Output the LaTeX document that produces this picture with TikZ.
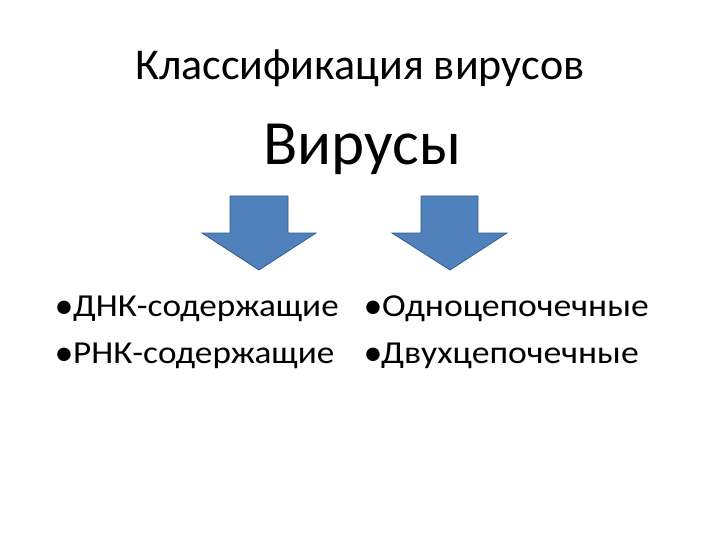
\documentclass[tikz,border=0pt]{standalone}
\usepackage{fontspec}
\setmainfont{Carlito}
\definecolor{arrowfill}{HTML}{4F81BD}
\definecolor{arrowline}{HTML}{385D8A}
\begin{document}
\begin{tikzpicture}[x=1pt,y=-1pt,
  bigarrow/.style={fill=arrowfill,draw=arrowline,line width=0.8pt,line join=miter},
  txt/.style={inner sep=0pt,anchor=base west,text=black},
  item/.style={txt,font=\fontsize{32}{38}\selectfont},
  dot/.style={inner sep=0pt,anchor=base,text=black,font=\fontsize{38}{44}\selectfont}]
\useasboundingbox[fill=white] (0,0) rectangle (720,540);
\node[txt,font=\fontsize{44}{52}\selectfont] (title) at (135,80) {Классификация вирусов};
\node[txt,font=\fontsize{63}{72}\selectfont] (main) at (263,165) {Вирусы};
\draw[bigarrow] (230,196) -- (288,196) -- (288,233) -- (316,233) -- (259,270) -- (202,233) -- (230,233) -- cycle;
\draw[bigarrow] (421,196) -- (478,196) -- (478,233) -- (507,233) -- (450,270) -- (392,233) -- (421,233) -- cycle;
\node[dot] (b1) at (64,318) {•};
\node[item] (l1) at (73,316) {\scalebox{1.1}[1]{ДНК-содержащие}};
\node[dot] (b2) at (64,365) {•};
\node[item] (l2) at (73,363) {\scalebox{1.1}[1]{РНК-содержащие}};
\node[dot] (b3) at (373,318) {•};
\node[item] (r1) at (382,316) {\scalebox{1.115}[1]{Одноцепочечные}};
\node[dot] (b4) at (373,365) {•};
\node[item] (r2) at (381,363) {\scalebox{1.115}[1]{Двухцепочечные}};
\end{tikzpicture}
\end{document}
